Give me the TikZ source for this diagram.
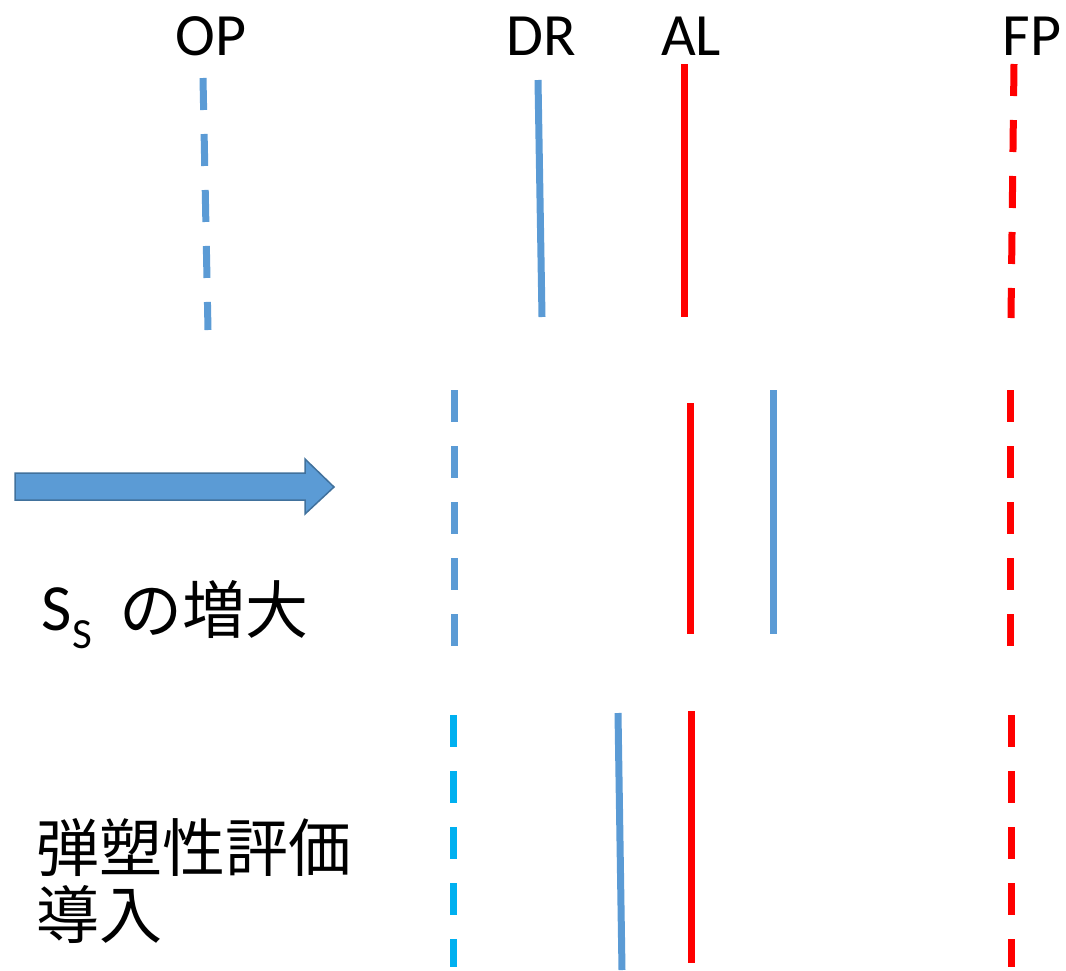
\documentclass[tikz,border=0pt]{standalone}
\usepackage{fontspec}
\setmainfont{Carlito}
\newfontfamily\cjk{Noto Sans CJK JP}
\definecolor{lblue}{HTML}{5B9BD5}
\definecolor{cyanb}{HTML}{00B0F0}
\definecolor{rred}{HTML}{FF0000}
\definecolor{aborder}{HTML}{41719C}
\begin{document}
\begin{tikzpicture}[x=1pt,y=-1pt,
  lbl/.style={inner sep=0pt,anchor=base,font=\fontsize{60}{70}\selectfont},
  jp/.style={inner sep=0pt,anchor=base west,font=\fontsize{63}{67}\selectfont\cjk,align=left},
  dashl/.style={line width=7pt,dash pattern=on 32pt off 24pt},
  solidl/.style={line width=7pt}]
\useasboundingbox (0,0) rectangle (1066,970);
% labels
\node[lbl] (op) at (211,55) {OP};
\node[lbl] (dr) at (541,55) {DR};
\node[lbl] (al) at (691,55) {AL};
\node[lbl] (fp) at (1032,55) {FP};
% row 1
\coordinate (a1) at (203,78); \coordinate (a2) at (208,330);
\draw[dashl,lblue] (a1) -- (a2);
\coordinate (b1) at (538,80); \coordinate (b2) at (542,317);
\draw[solidl,lblue] (b1) -- (b2);
\coordinate (c1) at (684,64); \coordinate (c2) at (684,317);
\draw[solidl,rred] (c1) -- (c2);
\coordinate (d1) at (1014,64); \coordinate (d2) at (1011,318);
\draw[dashl,rred] (d1) -- (d2);
% row 2
\coordinate (e1) at (454,390); \coordinate (e2) at (454,648);
\draw[dashl,lblue] (e1) -- (e2);
\coordinate (f1) at (690,403); \coordinate (f2) at (690,634);
\draw[solidl,rred] (f1) -- (f2);
\coordinate (g1) at (773,390); \coordinate (g2) at (773,634);
\draw[solidl,lblue] (g1) -- (g2);
\coordinate (h1) at (1010,390); \coordinate (h2) at (1010,648);
\draw[dashl,rred] (h1) -- (h2);
% row 3
\coordinate (i1) at (453,715); \coordinate (i2) at (453,967);
\draw[dashl,cyanb] (i1) -- (i2);
\coordinate (j1) at (618,713); \coordinate (j2) at (622,970);
\draw[solidl,lblue] (j1) -- (j2);
\coordinate (k1) at (691,711); \coordinate (k2) at (691,963);
\draw[solidl,rred] (k1) -- (k2);
\coordinate (l1) at (1011,715); \coordinate (l2) at (1011,967);
\draw[dashl,rred] (l1) -- (l2);
% arrow
\draw[fill=lblue,draw=aborder,line width=1.5pt,line join=miter]
  (15,473) -- (305,473) -- (305,459) -- (334,487) -- (305,514) -- (305,500) -- (15,500) -- cycle;
% texts
\node[jp] (s1) at (41,630) {\fontsize{66}{70}\selectfont\rmfamily S};
\node[jp] (s2) at (72,648) {\fontsize{43}{50}\selectfont\rmfamily S};
\node[jp] (ss) at (119,633) {の増大};
\node[jp] (ep) at (36,938) {弾塑性評価\\導入};
\end{tikzpicture}
\end{document}
